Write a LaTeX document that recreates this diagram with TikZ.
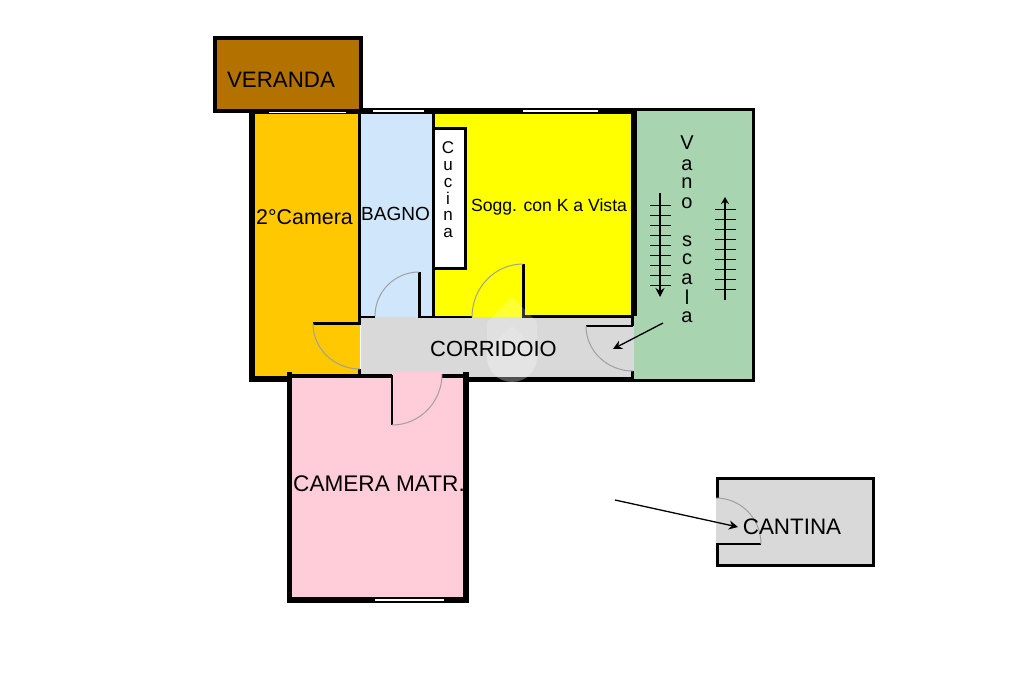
\documentclass[tikz,border=0pt]{standalone}
\usepackage{fontspec}
\setmainfont{Liberation Sans}
\newcommand{\fs}[1]{\fontsize{#1}{#1}\selectfont}
\definecolor{verandac}{HTML}{B37100}
\definecolor{camerac}{HTML}{FFC800}
\definecolor{bagnoc}{HTML}{CFE6FB}
\definecolor{soggc}{HTML}{FFFF00}
\definecolor{scalac}{HTML}{A8D4B0}
\definecolor{corrc}{HTML}{D9D9D9}
\definecolor{matrc}{HTML}{FFCCD9}
\definecolor{arcc}{HTML}{A0A0A0}
\usetikzlibrary{arrows.meta}
\tikzset{
  room/.style={fill=#1,draw=none},
  wall/.style={fill=black,draw=none},
  glass/.style={fill=white,draw=none},
  doorarc/.style={draw=arcc,line width=1pt},
  leaf/.style={draw=black,line width=2.4pt},
  lbl/.style={inner sep=0pt,text=black},
  tick/.style={draw=black,line width=0.8pt},
  flight/.style={draw=black,line width=1.8pt,-{Stealth[length=9pt,width=9pt]}},
  pointer/.style={draw=black,line width=1.3pt,-{Stealth[length=9pt,width=9pt]}}
}
\begin{document}
\begin{tikzpicture}[x=1pt,y=-1pt]
\useasboundingbox (0,0) rectangle (1024,682);
\fill[white] (0,0) rectangle (1024,682);
% room fills
\fill[room=camerac] (252,112) rectangle (360,380);
\fill[room=bagnoc] (360,112) rectangle (434,318);
\fill[room=soggc] (434,112) rectangle (634,318);
\fill[room=scalac] (634,109) rectangle (754,381);
\fill[room=corrc] (361,317) rectangle (634,379);
\fill[room=matrc] (290,375) rectangle (467,600);
\fill[room=matrc] (392,372) rectangle (442,378);
% veranda
\fill[room=verandac,draw=black,line width=4pt] (214.5,38.5) rectangle (361,111);
% outer walls
\fill[wall] (249,112) rectangle (255,382);
\fill[wall] (361,108) rectangle (637,114);
\fill[wall] (249,111) rectangle (361,114);
\fill[wall] (249,376) rectangle (288,382);
\fill[wall] (468,377) rectangle (634,382);
\fill[wall] (287,372) rectangle (292,603);
\fill[wall] (463,372) rectangle (469,603);
\fill[wall] (287,597) rectangle (469,603);
\fill[wall] (292,374) rectangle (392,378);
\fill[wall] (442,374) rectangle (465,378);
% inner walls
\fill[wall] (358,112) rectangle (361,323);
\fill[wall] (358,369) rectangle (361,376);
\fill[wall] (432,112) rectangle (435,317);
\fill[wall] (631,110) rectangle (637,316);
\fill[wall] (631,316) rectangle (634,326);
\fill[wall] (631,371) rectangle (634,381);
\fill[wall] (361,316) rectangle (375,318);
\fill[wall] (418,316) rectangle (472,318);
\fill[wall] (522,315) rectangle (632,318);
% scala outline
\draw[black,line width=3pt] (636,109.5) -- (753.5,109.5) -- (753.5,380.5) -- (632,380.5);
% cucina
\node[draw=black,line width=3pt,fill=white,minimum width=32pt,minimum height=140pt,inner sep=0pt,anchor=north west] (cuc) at (432,127) {};
% windows
\fill[glass] (269,112) rectangle (346,113.2);
\fill[glass] (373,110) rectangle (424,112);
\fill[glass] (523,110) rectangle (598,112);
\fill[glass] (375,598.5) rectangle (444,601);
% doors
\draw[leaf] (419.5,272) -- (419.5,317);
\draw[doorarc] (419,272) arc[start angle=270,end angle=180,radius=44];
\draw[leaf] (523.5,264) -- (523.5,317);
\draw[doorarc] (523,264) arc[start angle=270,end angle=180,x radius=51,y radius=53];
\draw[leaf] (313,323.5) -- (361,323.5);
\draw[doorarc] (313,323.5) arc[start angle=180,end angle=90,x radius=47,y radius=45.5];
\draw[leaf] (392,375) -- (392,425);
\draw[doorarc] (392,425) arc[start angle=90,end angle=0,x radius=50,y radius=51];
\draw[leaf] (586,326) -- (633,326);
\draw[doorarc] (586,326) arc[start angle=180,end angle=90,x radius=47,y radius=45];
% cantina
\draw[fill=corrc,draw=black,line width=3pt] (717.5,498) -- (717.5,478.5) -- (873.5,478.5) -- (873.5,565.5) -- (717.5,565.5) -- (717.5,544);
\fill[corrc] (716,498) rectangle (719,543);
\draw[leaf] (716,544) -- (761,544);
\draw[doorarc] (716,498) arc[start angle=270,end angle=360,x radius=45,y radius=46];
% stairs
\foreach \y in {205,215,...,285} \draw[tick] (650,\y) -- (671,\y);
\foreach \y in {209,219,...,289} \draw[tick] (715,\y) -- (736,\y);
\coordinate (downA) at (660,193); \coordinate (downB) at (660,297);
\coordinate (upA) at (725,300); \coordinate (upB) at (725,197);
\draw[flight] (downA) -- (downB);
\draw[flight,-{Stealth[length=7pt,width=8pt]}] (upA) -- (upB);
% pointers
\coordinate (p1a) at (663,323); \coordinate (p1b) at (613,349);
\coordinate (p2a) at (615,500); \coordinate (p2b) at (738,527);
\draw[pointer] (p1a) -- (p1b);
\draw[pointer] (p2a) -- (p2b);
% watermark
\fill[white,opacity=0.2] (512,297) -- (537,322) -- (537,357) arc[start angle=0,end angle=180,radius=25] -- (487,322) -- cycle;
\fill[white,opacity=0.15] (512,326) -- (537,349) -- (537,357) arc[start angle=0,end angle=180,radius=25] -- (487,349) -- cycle;
% labels
\node[lbl,font=\fs{22.3}] (tVer) at (281,80) {VERANDA};
\node[lbl,font=\fs{21.4}] (tCam) at (304.5,217) {2°Camera};
\node[lbl,font=\fs{19}] (tBag) at (395.5,214) {BAGNO};
\node[lbl,font=\fs{17.6}] (tSog) at (549,207) {Sogg. con K a Vista};
\node[lbl,font=\fs{21.9}] (tCor) at (493.5,349) {CORRIDOIO};
\node[lbl,font=\fs{22.6}] (tMat) at (379,484) {CAMERA MATR.};
\node[lbl,font=\fs{22.4}] (tCan) at (792,527) {CANTINA};
\foreach \c/\y in {C/148,u/166,c/183,i/198,n/216,a/233} \node[lbl,font=\fs{17}] at (448,\y) {\c};
\foreach \c/\y in {V/143,a/165,n/183,o/203,s/241,c/259,a/279,l/297,a/317} \node[lbl,font=\fs{20}] at (687,\y) {\c};
\end{tikzpicture}
\end{document}
